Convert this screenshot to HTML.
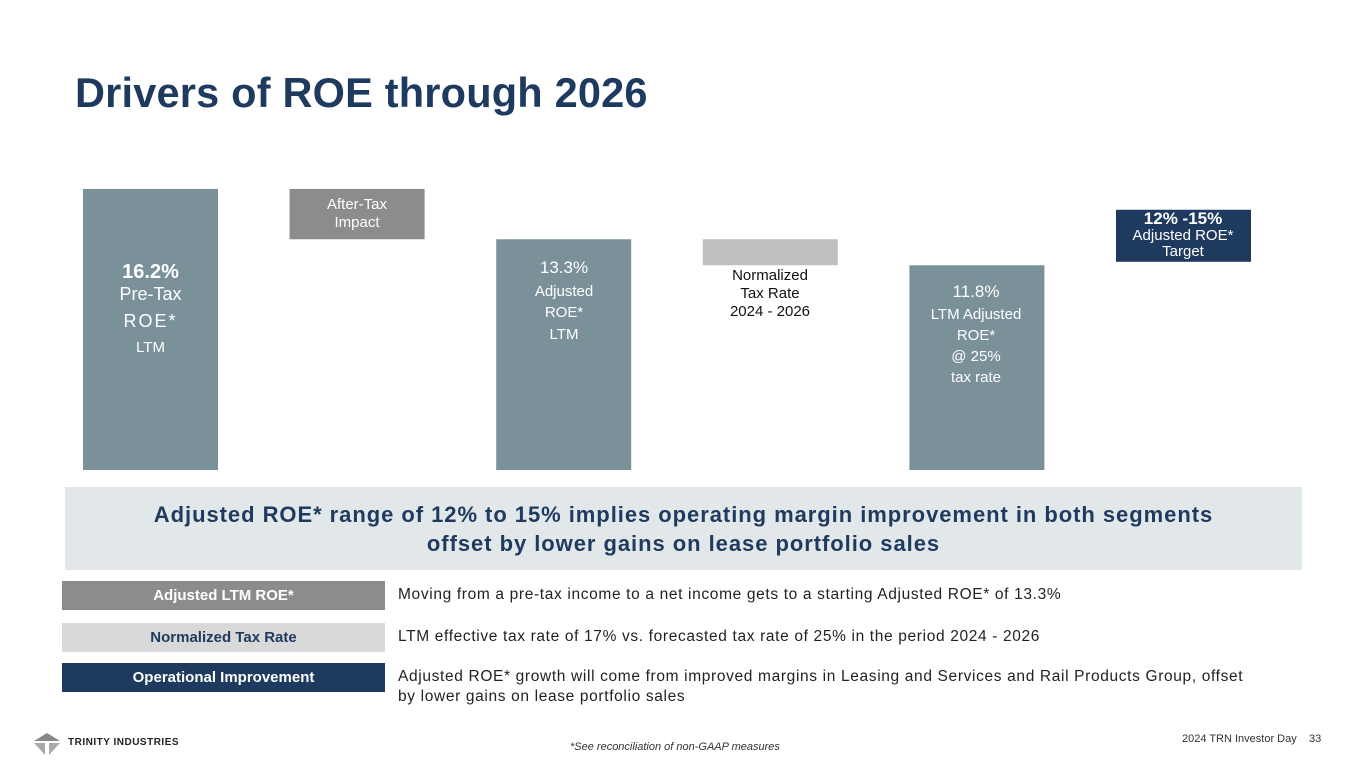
<!DOCTYPE html>
<html><head><meta charset="utf-8">
<style>
body{margin:0;width:1365px;height:768px;position:relative;background:#fff;font-family:"Liberation Sans",sans-serif;overflow:hidden}
.a{position:absolute}
.lbl{position:absolute;text-align:center;color:#fff;line-height:1.2}
.key{position:absolute;left:62px;width:323px;height:29px;line-height:29px;text-align:center;font-weight:bold;font-size:15px}
.desc{position:absolute;left:398px;font-size:15.5px;letter-spacing:0.65px;color:#222;line-height:20px}
</style></head><body>
<div class="a" style="left:75px;top:69px;font-size:41.5px;font-weight:bold;color:#1f3a5f;letter-spacing:0.2px">Drivers of ROE through 2026</div>
<svg class="a" style="left:0;top:0" width="1365" height="480" id="chart"></svg>

<div class="lbl" style="left:83px;width:135px;top:260px;font-size:18px"><b style="font-size:20px">16.2%</b><br>Pre-Tax<br><span style="line-height:30px;letter-spacing:2px">ROE*</span><br><span style="font-size:15px">LTM</span></div>
<div class="lbl" style="left:290px;width:134px;top:196px;font-size:15px">After-Tax<br>Impact</div>
<div class="lbl" style="left:497px;width:134px;top:256px;font-size:15px;line-height:1.45"><span style="font-size:17px">13.3%</span><br>Adjusted<br>ROE*<br>LTM</div>
<div class="lbl" style="left:703px;width:134px;top:267px;font-size:15px;color:#111">Normalized<br>Tax Rate<br>2024 - 2026</div>
<div class="lbl" style="left:909px;width:134px;top:280px;font-size:15px;line-height:1.4"><span style="font-size:17px">11.8%</span><br>LTM Adjusted<br>ROE*<br>@ 25%<br>tax rate</div>
<div class="lbl" style="left:1116px;width:134px;top:210px;font-size:15px;line-height:1.05"><b style="font-size:17px">12% -15%</b><br>Adjusted ROE*<br>Target</div>

<div class="a" style="left:65px;top:487px;width:1237px;height:83px;background:#e2e8ea;color:#1f3a5f;font-weight:bold;font-size:22px;letter-spacing:0.95px;text-align:center;line-height:29px;padding-top:13px;box-sizing:border-box">Adjusted ROE* range of 12% to 15% implies operating margin improvement in both segments<br>offset by lower gains on lease portfolio sales</div>

<div class="key" style="top:581px;background:#8c8c8c;color:#fff">Adjusted LTM ROE*</div>
<div class="desc" style="top:585px">Moving from a pre-tax income to a net income gets to a starting Adjusted ROE* of 13.3%</div>
<div class="key" style="top:623px;background:#d9d9d9;color:#1f3a5f">Normalized Tax Rate</div>
<div class="desc" style="top:627px">LTM effective tax rate of 17% vs. forecasted tax rate of 25% in the period 2024 - 2026</div>
<div class="key" style="top:663px;background:#1f3a5f;color:#fff">Operational Improvement</div>
<div class="desc" style="top:667px">Adjusted ROE* growth will come from improved margins in Leasing and Services and Rail Products Group, offset<br>by lower gains on lease portfolio sales</div>

<svg class="a" style="left:32px;top:732px" width="30" height="24"><polygon points="2,9 15,1 28,9" fill="#888"/><polygon points="2,11 13,11 13,23" fill="#aaa"/><polygon points="17,11 28,11 17,23" fill="#aaa"/></svg>
<div class="a" style="left:68px;top:737px;font-size:10px;font-weight:bold;letter-spacing:0.5px;color:#222">TRINITY INDUSTRIES</div>
<div class="a" style="left:570px;top:741px;font-size:11px;font-style:italic;color:#333">*See reconciliation of non-GAAP measures</div>
<div class="a" style="left:1182px;top:733px;font-size:11px;color:#333">2024 TRN Investor Day &nbsp;&nbsp; 33</div>

<script>
const categories=["Pre-Tax ROE LTM","After-Tax Impact","Adjusted ROE LTM","Normalized Tax Rate","LTM Adjusted ROE","Target"];
const lows=[0,13.3,0,11.8,0,12];
const highs=[16.2,16.2,13.3,13.3,11.8,15];
const colors=["#7b919a","#8c8c8c","#7b919a","#bfbfbf","#7b919a","#1f3a5f"];
const names=["bar-pretax-roe","bar-aftertax-impact","bar-adjusted-roe","bar-normalized-tax","bar-ltm-adjusted-roe","bar-target"];
const base=470,scale=17.35,x0=83,step=206.6,bw=135;
function y(v){return base-v*scale;}
function x(i){return x0+i*step;}
const svg=document.getElementById('chart');
categories.forEach((c,i)=>{
  const r=document.createElementNS('http://www.w3.org/2000/svg','rect');
  r.setAttribute('x',x(i));r.setAttribute('width',bw);
  r.setAttribute('y',y(highs[i]));r.setAttribute('height',y(lows[i])-y(highs[i]));
  r.setAttribute('fill',colors[i]);
  
  
  svg.appendChild(r);
});
</script>
</body></html>
